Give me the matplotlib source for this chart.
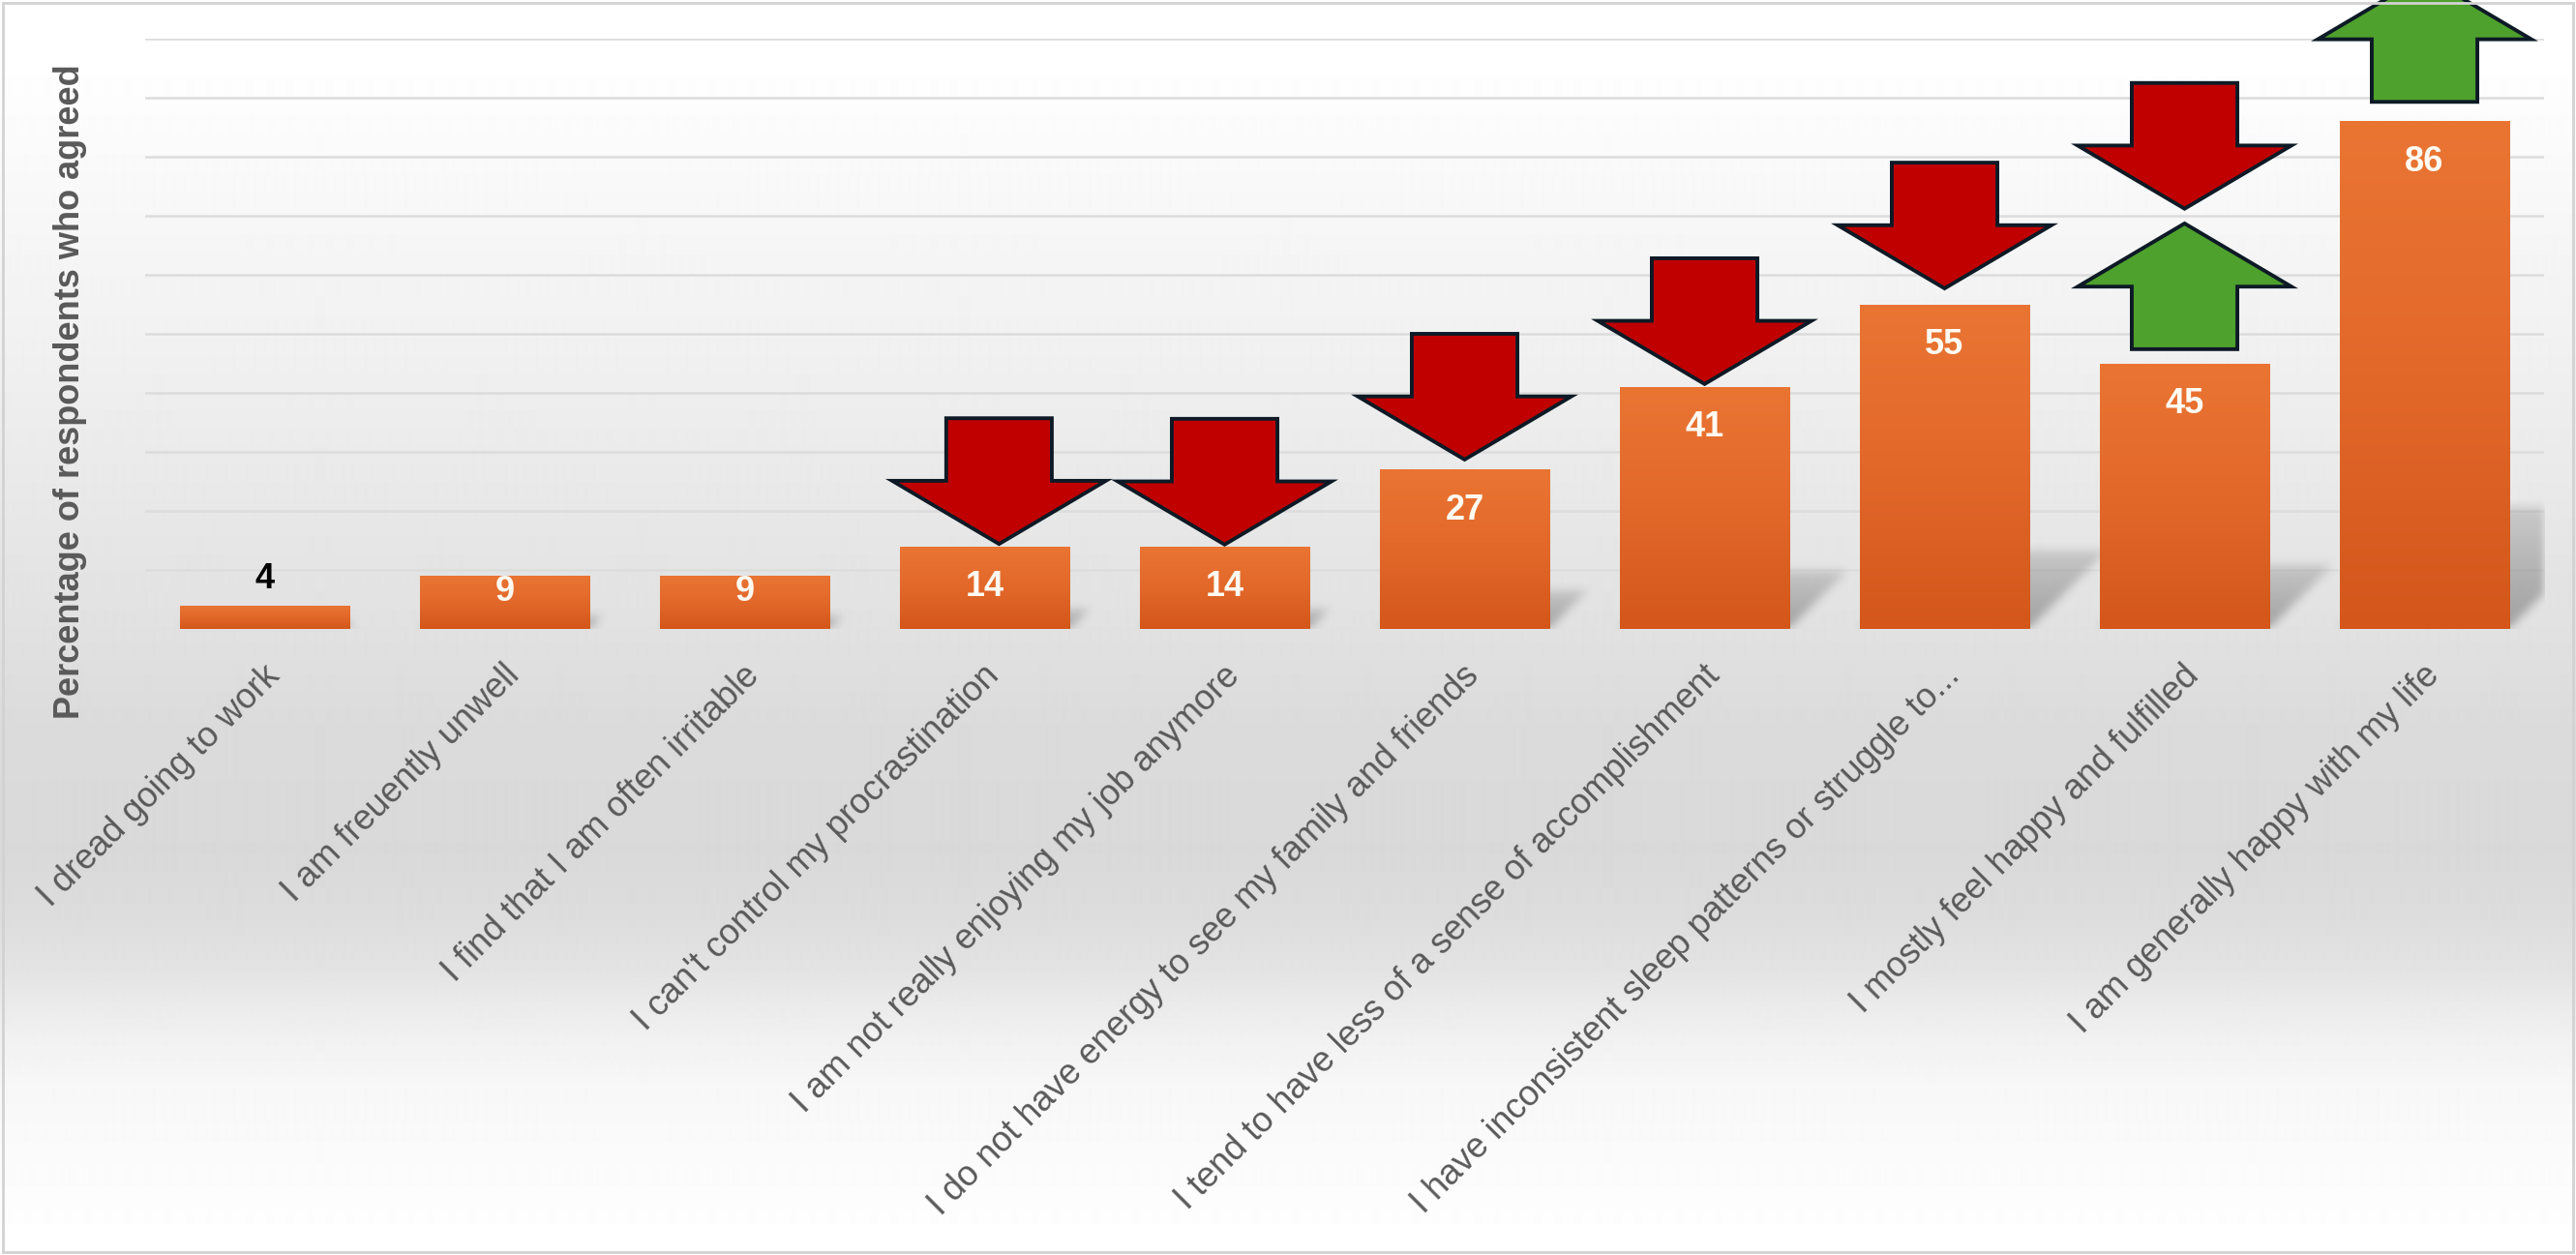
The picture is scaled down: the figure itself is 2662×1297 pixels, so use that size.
import numpy as np
import matplotlib
matplotlib.use('Agg')
import matplotlib.pyplot as plt
from matplotlib.colors import LinearSegmentedColormap
from matplotlib.patches import FancyArrow, Rectangle
from matplotlib.transforms import ScaledTranslation

plt.rcParams['font.family'] = ['Liberation Sans', 'DejaVu Sans']

statements = [
    'I dread going to work',
    'I am freuently unwell',
    'I find that I am often irritable',
    "I can't control my procrastination",
    'I am not really enjoying my job anymore',
    'I do not have energy to see my family and friends',
    'I tend to have less of a sense of accomplishment',
    'I have inconsistent sleep patterns or struggle to...',
    'I mostly feel happy and fulfilled',
    'I am generally happy with my life',
]
agreed = [4, 9, 9, 14, 14, 27, 41, 55, 45, 86]

# trend markers: bar position, direction and the value where the arrow tail sits
arrow_pos = [3.06, 4, 5, 6, 7, 8, 8, 9]
arrow_dir = ['down', 'down', 'down', 'down', 'down', 'down', 'up', 'up']
arrow_tail = [35.7, 35.6, 50.0, 62.8, 79.0, 92.5, 47.4, 89.3]

W_PX, H_PX = 2662, 1297
fig = plt.figure(figsize=(W_PX / 100, H_PX / 100), dpi=100)

# soft grey backdrop, light at the top and bottom
stops_y = [0, 80, 200, 350, 500, 650, 750, 880, 950, 1000, 1040, 1080, 1120, 1180, 1250, 1280, 1297]
stops_v = [255, 254, 248, 241, 233, 225, 219, 217, 221, 227, 235, 242, 247, 250, 253, 255, 255]
col = np.interp(np.arange(H_PX), stops_y, stops_v) / 255.0
bg = fig.add_axes([0, 0, 1, 1], zorder=-5)
bg.imshow(np.repeat(col[:, None], 4, axis=1), cmap='gray', vmin=0, vmax=1,
          aspect='auto', extent=(0, 1, 0, 1), interpolation='bilinear')
bg.set_axis_off()
fig.patches.append(Rectangle((3 / W_PX, 3 / H_PX), 1 - 6 / W_PX, 1 - 6 / H_PX,
                             transform=fig.transFigure, fill=False,
                             edgecolor='#d2d2d2', linewidth=2))

ax = fig.add_axes([149.5 / W_PX, 1 - 650 / H_PX, 2480 / W_PX, 610 / H_PX], zorder=1)
ax.set_facecolor('none')

bar_w = 0.706
x = np.arange(len(agreed))
bars = ax.bar(x, agreed, width=bar_w, color='#e0662a', zorder=3)

# orange gradient inside each bar
orange = LinearSegmentedColormap.from_list('orange', ['#d4561a', '#e2682a', '#ea7533'])
grad = np.linspace(0, 1, 256).reshape(-1, 1)
for p in bars:
    im = ax.imshow(grad, cmap=orange, origin='lower', aspect='auto', zorder=3.5,
                   extent=(p.get_x(), p.get_x() + p.get_width(), 0, p.get_height()))
    im.set_clip_path(p)

# perspective shadows leaning to the right behind the bars
px_x = ax.bbox.width / 10.0
px_y = ax.bbox.height / 100.0
gw, gh = 2480, 610
gx = np.linspace(-0.5, 9.5, gw)
gy = np.linspace(0, 100, gh)
GX, GY = np.meshgrid(gx, gy)
shade = np.zeros_like(GX)
for i, v in enumerate(agreed):
    top = 0.24 * v
    shift = top * px_y / px_x
    t = GY / top
    left = i - bar_w / 2 + t * shift
    right = i + bar_w / 2 + t * shift
    inside = (GY <= top) & (GX >= left) & (GX <= right)
    shade = np.maximum(shade, inside * (1 - 0.55 * np.clip(t, 0, 1)))


def box_blur(a, r):
    k = np.ones(2 * r + 1) / (2 * r + 1)
    a = np.apply_along_axis(lambda m: np.convolve(m, k, mode='same'), 0, a)
    a = np.apply_along_axis(lambda m: np.convolve(m, k, mode='same'), 1, a)
    return a


shade = box_blur(box_blur(shade, 5), 5)
rgba = np.zeros((gh, gw, 4))
rgba[..., :3] = 0.42
rgba[..., 3] = np.clip(shade, 0, 1) * 0.55
ax.imshow(rgba, origin='lower', aspect='auto', extent=(-0.5, 9.5, 0, 100),
          zorder=2, interpolation='bilinear')

# value labels: inside the bar top, above it when the bar is too short
for i, v in enumerate(agreed):
    if v < 8:
        ax.text(i, v + 4.5, str(v), ha='center', va='center', fontsize=26,
                fontweight='bold', color='black', zorder=5)
    else:
        ax.text(i, max(v - 6.9, 6.3), str(v), ha='center', va='center', fontsize=26,
                fontweight='bold', color='#fffaf2', zorder=5)

# block arrows
arrow_len = 21.3
for xp, d, y0 in zip(arrow_pos, arrow_dir, arrow_tail):
    dy = -arrow_len if d == 'down' else arrow_len
    fc = '#c00000' if d == 'down' else '#4ea12c'
    ax.add_patch(FancyArrow(xp, y0, 0, dy, width=0.44, head_width=0.89,
                            head_length=10.7, length_includes_head=True,
                            facecolor=fc, edgecolor='#0d1a26', linewidth=2.8,
                            joinstyle='miter', zorder=6, clip_on=False))

ax.set_xlim(-0.5, 9.5)
ax.set_ylim(0, 100)
ax.set_yticks(np.arange(10, 101, 10))
ax.tick_params(axis='y', length=0, labelleft=False)
ax.grid(axis='y', color='#dcdcdc', linewidth=1.8, zorder=0)
ax.set_axisbelow(True)
for s in ax.spines.values():
    s.set_visible(False)

ax.set_xticks(x)
ax.set_xticklabels(statements, rotation=45, ha='right', va='center',
                   rotation_mode='anchor', fontsize=26, color='#595959')
ax.tick_params(axis='x', length=0, pad=31)
shift_right = ScaledTranslation(10 / 100, 0, fig.dpi_scale_trans)
for lbl in ax.get_xticklabels():
    lbl.set_transform(lbl.get_transform() + shift_right)

fig.text(73 / W_PX, 1 - 405 / H_PX, 'Percentage of respondents who agreed',
         rotation=90, ha='center', va='center', fontsize=26,
         fontweight='bold', color='#595959')

fig.savefig('out.png', dpi=100)
